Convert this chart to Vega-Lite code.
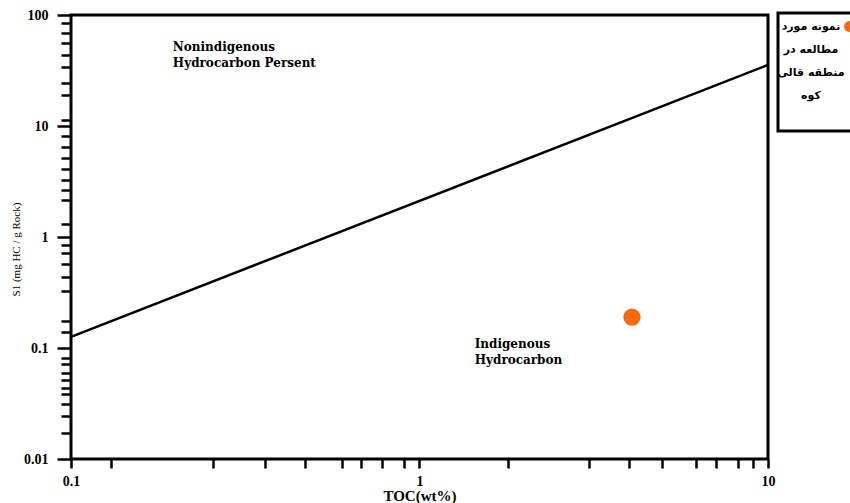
{
  "$schema": "https://vega.github.io/schema/vega-lite/v6.json",
  "width": 697,
  "height": 444,
  "autosize": {"type": "none"},
  "padding": {"left": 71, "top": 15, "right": 82, "bottom": 44},
  "background": "white",
  "config": {
    "view": {"stroke": "black", "strokeWidth": 3},
    "style": {"guide-label": {"lineHeight": 23}},
    "legend": {"strokeWidth": 3},
    "axis": {
      "domain": false,
      "grid": false,
      "tickColor": "black",
      "tickWidth": 2.5,
      "labelColor": "black",
      "labelFont": "Liberation Serif",
      "labelFontWeight": "bold",
      "labelFontSize": 14,
      "labelOverlap": false,
      "labelFlush": false,
      "titleColor": "black",
      "titleFont": "Liberation Serif"
    }
  },
  "layer": [
    {
      "data": {"values": [{"toc": 0.1, "s1": 0.126}, {"toc": 10, "s1": 35.5}]},
      "mark": {"type": "line", "color": "black", "strokeWidth": 2.5},
      "encoding": {
        "x": {
          "field": "toc", "type": "quantitative",
          "scale": {"type": "log", "domain": [0.1, 10], "nice": false},
          "axis": {
            "title": "TOC(wt%)",
            "titleFontSize": 15,
            "titleFontWeight": "bold",
            "titleY": 41,
            "titleBaseline": "alphabetic",
            "values": [0.1, 0.13, 0.255, 0.36, 0.47, 0.6, 0.68, 0.78, 0.9, 1, 1.8, 3.07, 4, 4.96, 6.2, 7.1, 8.2, 9.06, 10],
            "labelExpr": "(datum.value == 0.1 || datum.value == 1 || datum.value == 10) ? ('' + datum.value) : ''",
            "tickSize": 9,
            "labelPadding": 6
          }
        },
        "y": {
          "field": "s1", "type": "quantitative",
          "scale": {"type": "log", "domain": [0.01, 100], "nice": false},
          "axis": {
            "title": "S1 (mg HC / g Rock)",
            "titleFontSize": 11,
            "titleFontWeight": "normal",
            "titleX": -50,
            "titleY": 234,
            "titleAngle": -90,
            "values": [0.01, 0.0173, 0.0246, 0.0311, 0.0385, 0.0434, 0.0515, 0.0592, 0.0713, 0.0807, 0.1, 0.14, 0.176, 0.328, 0.436, 0.571, 0.722, 0.847, 1, 1.31, 2.15, 2.65, 3.26, 4.1, 5.15, 6.47, 8.13, 10, 11.3, 19, 24.4, 34, 43.6, 56, 68.9, 84.7, 100],
            "labelExpr": "(datum.value == 0.01 || datum.value == 0.1 || datum.value == 1 || datum.value == 10 || datum.value == 100) ? ('' + datum.value) : ''",
            "tickSize": {"condition": {"test": "datum.value == 0.01 || datum.value == 0.1 || datum.value == 1 || datum.value == 10 || datum.value == 100", "value": 14}, "value": 10},
            "labelPadding": 9
          }
        }
      }
    },
    {
      "data": {"values": [{"toc": 4.07, "s1": 0.19, "sample": "نمونه مورد|مطالعه در|منطقه قالی|کوه|"}]},
      "mark": {"type": "point", "filled": true, "shape": "circle", "size": 300, "opacity": 1},
      "encoding": {
        "x": {"field": "toc", "type": "quantitative"},
        "y": {"field": "s1", "type": "quantitative"},
        "color": {
          "field": "sample", "type": "nominal",
          "scale": {"range": ["#f36a10"]},
          "legend": {
            "title": null,
            "orient": "none",
            "legendX": 707,
            "legendY": -2,
            "padding": 7,
            "strokeColor": "black",
            "fillColor": "white",
            "symbolType": "circle",
            "symbolSize": 120,
            "symbolOffset": 58,
            "labelOffset": -45,
            "labelAlign": "center",
            "labelBaseline": "middle",
            "labelFont": "DejaVu Sans",
            "labelFontWeight": "bold",
            "labelFontSize": 11,
            "labelColor": "black",
            "labelLimit": 0,
            "labelExpr": "split(datum.label, '|')"
          }
        }
      }
    },
    {
      "data": {"values": [
        {"toc": 0.196, "s1": 57, "note": "Nonindigenous\nHydrocarbon Persent"},
        {"toc": 1.44, "s1": 0.121, "note": "Indigenous\nHydrocarbon"}
      ]},
      "mark": {"type": "text", "align": "left", "baseline": "top", "lineBreak": "\n", "lineHeight": 16, "font": "DejaVu Serif", "fontWeight": "bold", "fontSize": 12, "color": "black"},
      "encoding": {
        "x": {"field": "toc", "type": "quantitative"},
        "y": {"field": "s1", "type": "quantitative"},
        "text": {"field": "note", "type": "nominal"}
      }
    }
  ]
}
